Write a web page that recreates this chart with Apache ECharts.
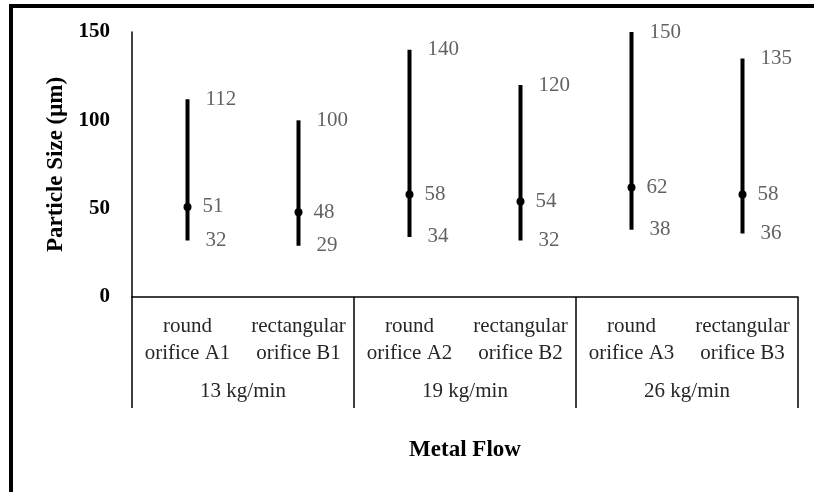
<!DOCTYPE html>
<html>
<head>
<meta charset="utf-8">
<script src="https://cdn.jsdelivr.net/npm/echarts@6/dist/echarts.min.js"></script>
<style>html,body{margin:0;padding:0;background:#fff;}#c{width:814px;height:492px;}</style>
</head>
<body>
<div id="c"></div>
<script>
var categories = ['round\norifice A1', 'rectangular\norifice B1', 'round\norifice A2', 'rectangular\norifice B2', 'round\norifice A3', 'rectangular\norifice B3'];
var groups = ['13 kg/min', '19 kg/min', '26 kg/min'];
var lowValues = [32, 29, 34, 32, 38, 36];
var meanValues = [51, 48, 58, 54, 62, 58];
var highValues = [112, 100, 140, 120, 150, 135];
var yTicks = [0, 50, 100, 150];

var FONT = '"Liberation Serif", "Times New Roman", serif';
var chart = echarts.init(document.getElementById('c'), null, {renderer: 'canvas'});

var rangeData = categories.map(function (c, i) { return [i, lowValues[i], highValues[i], meanValues[i]]; });
function pts(arr) { return arr.map(function (v, i) { return [i, v]; }); }
function labelSeries(arr, dist) {
  return {
    type: 'scatter', xAxisIndex: 0, yAxisIndex: 0, symbolSize: 0, silent: true,
    data: pts(arr),
    label: {show: true, position: 'right', distance: dist, fontFamily: FONT, fontSize: 21, color: '#3a3a3a',
      padding: [4, 0, 0, 0],
      formatter: function (p) { return p.value[1]; }}
  };
}

chart.setOption({
  animation: false,
  grid: {left: 132, right: 16, top: 32, bottom: 195, containLabel: false},
  xAxis: [{
    type: 'category', data: categories, position: 'bottom',
    axisLine: {show: true, lineStyle: {color: '#000', width: 1.5}},
    axisTick: {show: false},
    axisLabel: {margin: 16, fontFamily: FONT, fontSize: 21, lineHeight: 27, color: '#262626', interval: 0}
  }, {
    type: 'category', data: groups, position: 'bottom',
    axisLine: {show: false},
    axisTick: {show: true, length: 111, interval: 0, lineStyle: {color: '#000', width: 1.5}},
    axisLabel: {margin: 84, fontFamily: FONT, fontSize: 21, color: '#262626', interval: 0},
    name: 'Metal Flow', nameLocation: 'middle', nameGap: 142,
    nameTextStyle: {fontFamily: FONT, fontSize: 23, fontWeight: 'bold', color: '#000'}
  }],
  yAxis: {
    type: 'value', min: yTicks[0], max: yTicks[yTicks.length - 1], interval: 50,
    axisLine: {show: true, lineStyle: {color: '#000', width: 1.5}},
    axisTick: {show: false}, splitLine: {show: false},
    axisLabel: {margin: 22, fontFamily: FONT, fontSize: 21, fontWeight: 'bold', color: '#000', padding: [5, 0, 0, 0]},
    name: 'Particle Size (μm)', nameLocation: 'middle', nameGap: 61,
    nameTextStyle: {fontFamily: FONT, fontSize: 23, fontWeight: 'bold', color: '#000'}
  },
  graphic: [
    {type: 'rect', shape: {x: 9, y: 4, width: 4, height: 488}, style: {fill: '#000'}, z: 100},
    {type: 'rect', shape: {x: 9, y: 4, width: 805, height: 4}, style: {fill: '#000'}, z: 100}
  ],
  series: [{
    type: 'custom', xAxisIndex: 0, yAxisIndex: 0, data: rangeData,
    renderItem: function (params, api) {
      var x = api.value(0);
      var lo = api.coord([x, api.value(1)]);
      var hi = api.coord([x, api.value(2)]);
      var mid = api.coord([x, api.value(3)]);
      return {type: 'group', children: [
        {type: 'line', shape: {x1: lo[0], y1: lo[1], x2: hi[0], y2: hi[1]}, style: {stroke: '#000', lineWidth: 4}},
        {type: 'circle', shape: {cx: mid[0], cy: mid[1], r: 4}, style: {fill: '#000'}}
      ]};
    }
  },
  labelSeries(highValues, 18),
  labelSeries(meanValues, 15),
  labelSeries(lowValues, 18)
  ]
});
</script>
</body>
</html>
